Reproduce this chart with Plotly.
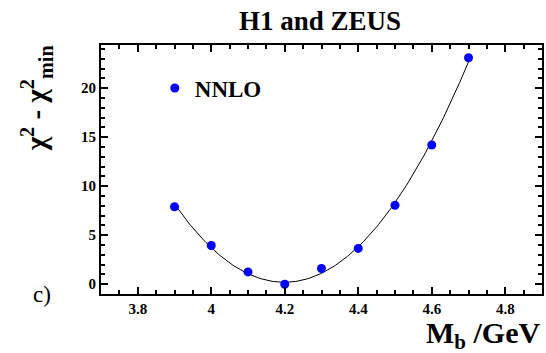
import numpy as np
import plotly.graph_objects as go

# chi2 scan versus the b-quark mass
mb_values = [3.9, 4.0, 4.1, 4.2, 4.3, 4.4, 4.5, 4.6, 4.7]
dchi2_values = [7.9, 3.95, 1.25, 0.0, 1.6, 3.65, 8.05, 14.2, 23.1]

x_ticks = [3.8, 4.0, 4.2, 4.4, 4.6, 4.8]
y_ticks = [0, 5, 10, 15, 20]

SERIF = "Liberation Serif"

# parabolic fit through the scan points
coef = np.polyfit(mb_values, dchi2_values, 2)
fit_x = np.linspace(min(mb_values), max(mb_values), 200)
fit_y = np.polyval(coef, fit_x)

fig = go.Figure()
fig.add_trace(go.Scatter(
    x=fit_x, y=fit_y, mode="lines",
    line=dict(color="black", width=1),
    showlegend=False, hoverinfo="skip",
))
fig.add_trace(go.Scatter(
    x=mb_values, y=dchi2_values, mode="markers",
    marker=dict(color="#0000ff", size=9),
    name="<b>NNLO</b>",
))

axis_common = dict(
    showline=True, linecolor="black", linewidth=2, mirror="allticks",
    ticks="inside", ticklen=7, tickwidth=1.5, tickcolor="black",
    showgrid=False, zeroline=False,
    tickfont=dict(family=SERIF, size=15, color="black", weight="bold"),
)

fig.update_xaxes(
    range=[3.7, 4.9], tickvals=x_ticks,
    ticktext=["<b>%g</b>" % v for v in x_ticks],
    minor=dict(dtick=0.05, ticks="inside", ticklen=4, tickwidth=1.5,
               tickcolor="black", showgrid=False),
    **axis_common,
)
fig.update_yaxes(
    range=[-1, 24.4], tickvals=y_ticks,
    ticktext=["<b>%g</b>" % v for v in y_ticks],
    minor=dict(dtick=1, ticks="inside", ticklen=4, tickwidth=1.5,
               tickcolor="black", showgrid=False),
    **axis_common,
)

fig.update_layout(
    width=546, height=353,
    margin=dict(l=101, r=2, t=45, b=59),
    paper_bgcolor="white", plot_bgcolor="white",
    font=dict(family=SERIF, color="black"),
    showlegend=True,
    legend=dict(
        x=0.122, y=0.827, xanchor="left", yanchor="middle",
        bgcolor="rgba(0,0,0,0)",
        font=dict(family=SERIF, size=23, color="black"),
    ),
    annotations=[
        dict(text="<b>H1 and ZEUS</b>", xref="paper", yref="paper",
             x=0.4966, y=1.098, xanchor="center", yanchor="middle",
             showarrow=False,
             font=dict(family=SERIF, size=27, color="black")),
        dict(text="<b>M<sub>b</sub> /GeV</b>", xref="paper", yref="paper",
             x=1.002, y=-0.165, xanchor="right", yanchor="middle",
             showarrow=False,
             font=dict(family=SERIF, size=30, color="black")),
        dict(text="<b>χ<sup>2</sup> - χ<sup>2</sup><sub>min</sub></b>",
             xref="paper", yref="paper", x=-0.1467, y=0.787,
             xanchor="center", yanchor="middle", textangle=-90,
             showarrow=False,
             font=dict(family=SERIF, size=29, color="black")),
        dict(text="c)", xref="paper", yref="paper",
             x=-0.133, y=-0.004, xanchor="center", yanchor="middle",
             showarrow=False,
             font=dict(family=SERIF, size=23, color="black")),
    ],
)

fig.write_html("out.html")
